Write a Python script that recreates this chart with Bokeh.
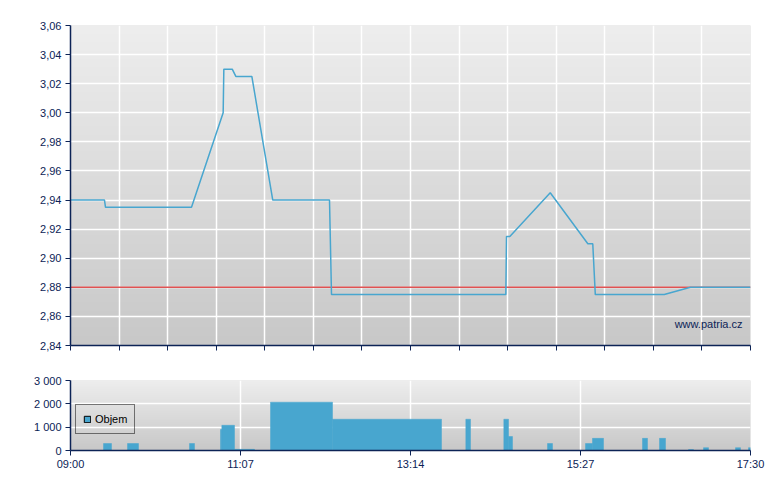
import numpy as np
from bokeh.plotting import figure
from bokeh.layouts import column
from bokeh.models import (FixedTicker, CustomJSTickFormatter, Label, Legend,
                          LegendItem, Range1d, ColumnDataSource)
from bokeh.embed import file_html
from bokeh.resources import INLINE

# ---- data (x = minutes after 09:00) ----
price_t = [0, 25.5, 26.25, 90.75, 114.5, 115, 121.3, 124, 136, 151.7, 194.25,
           195.75, 326.5, 327, 329.5, 359.8, 388, 391.7, 393.6, 445.3, 465, 510]
price_v = [2.94, 2.94, 2.935, 2.935, 3.00, 3.03, 3.03, 3.025, 3.025, 2.94, 2.94,
           2.875, 2.875, 2.915, 2.915, 2.945, 2.91, 2.91, 2.875, 2.875, 2.88, 2.88]
prev_close = 2.88

vol_start = [24.75, 42.75, 89.25, 112.5, 113.5, 123, 150, 196.5, 296.5, 325,
             328.5, 357.75, 386.25, 391.5, 429, 441.75, 463.5, 474.75, 498.75, 508.5]
vol_end = [30.75, 51, 93, 113.5, 123, 138, 196.5, 278.25, 300, 328.5,
           331.5, 361.5, 391.5, 399.75, 432.75, 446.25, 467.25, 478.5, 502.5, 510]
vol_value = [300, 300, 300, 900, 1080, 50, 2070, 1340, 1340, 1340,
             600, 300, 300, 520, 520, 520, 40, 120, 120, 120]

time_ticks = [0, 127.5, 255, 382.5, 510]
time_labels = ["09:00", "11:07", "13:14", "15:27", "17:30"]
price_ticks = [2.84, 2.86, 2.88, 2.90, 2.92, 2.94, 2.96, 2.98, 3.00, 3.02, 3.04, 3.06]
vol_ticks = [0, 1000, 2000, 3000]

X0, X1 = 0, 510
NAVY = "#0c2356"
BLUE = "#48a6cf"
RED = "#e05252"
FONT = "Liberation Sans"


def gradient(n=256, top=238, bottom=200):
    g = np.linspace(bottom, top, n).astype(np.uint32)
    img = (255 << 24) | (g << 16) | (g << 8) | g
    return img.reshape(n, 1).view(np.uint32)


def style(p):
    p.outline_line_color = None
    p.background_fill_color = "#dcdcdc"
    p.border_fill_color = "white"
    for ax in (p.xaxis, p.yaxis):
        ax.axis_line_color = NAVY
        ax.axis_line_width = 1.5
        ax.major_tick_line_color = NAVY
        ax.major_tick_in = 0
        ax.major_tick_out = 5
        ax.minor_tick_line_color = None
        ax.major_label_text_color = NAVY
        ax.major_label_text_font = FONT
        ax.major_label_text_font_size = "11px"
    p.grid.grid_line_color = "white"
    p.grid.grid_line_width = 1.5


# ---- price panel ----
p1 = figure(width=770, height=365, x_range=Range1d(X0, X1), y_range=Range1d(2.84, 3.06),
            output_backend="svg", toolbar_location=None,
            min_border_left=70, min_border_right=20, min_border_top=25, min_border_bottom=20)
style(p1)
bg1 = p1.image_rgba(image=[gradient()], x=X0, y=2.84, dw=X1 - X0, dh=0.22)
bg1.level = "image"
fine_ticks = [X0 + (X1 - X0) * k / 14 for k in range(15)]
p1.xaxis.ticker = FixedTicker(ticks=fine_ticks)
p1.xgrid.ticker = FixedTicker(ticks=fine_ticks)
p1.xaxis.formatter = CustomJSTickFormatter(code="return '';")
p1.xaxis.major_label_standoff = 0
p1.yaxis.ticker = FixedTicker(ticks=price_ticks)
p1.ygrid.ticker = FixedTicker(ticks=price_ticks)
p1.yaxis.formatter = CustomJSTickFormatter(code="return tick.toFixed(2).replace('.', ',');")
p1.yaxis.major_label_standoff = 4

p1.line([X0, X1], [prev_close, prev_close], line_color=RED, line_width=1.5)
p1.line(price_t, price_v, line_color=BLUE, line_width=1.5)
p1.add_layout(Label(x=504, y=2.8545, text="www.patria.cz", text_align="right",
                    text_baseline="middle", text_font_size="11px", text_color=NAVY,
                    text_font=FONT))

# ---- volume panel ----
p2 = figure(width=770, height=115, x_range=p1.x_range, y_range=Range1d(0, 3000),
            output_backend="svg", toolbar_location=None,
            min_border_left=70, min_border_right=20, min_border_top=15, min_border_bottom=30)
style(p2)
bg2 = p2.image_rgba(image=[gradient()], x=X0, y=0, dw=X1 - X0, dh=3000)
bg2.level = "image"
p2.xaxis.ticker = FixedTicker(ticks=time_ticks)
p2.xgrid.ticker = FixedTicker(ticks=time_ticks[1:-1])
p2.xaxis.major_label_overrides = {t: l for t, l in zip(time_ticks, time_labels)}
p2.xaxis.major_label_standoff = 2
p2.yaxis.ticker = FixedTicker(ticks=vol_ticks)
p2.ygrid.ticker = FixedTicker(ticks=vol_ticks)
p2.yaxis.formatter = CustomJSTickFormatter(
    code="return tick == 0 ? '0' : (tick/1000) + ' 000';")
p2.yaxis.major_label_standoff = 4

src = ColumnDataSource(dict(left=vol_start, right=vol_end, top=vol_value,
                            bottom=[0] * len(vol_value)))
p2.quad(left="left", right="right", top="top", bottom="bottom", source=src,
        fill_color=BLUE, line_color=BLUE, line_width=0.5)
nan = float("nan")
dummy = p2.quad(left=[nan], right=[nan], top=[nan], bottom=[nan],
                fill_color=BLUE, line_color="black", line_width=1)
leg = Legend(items=[LegendItem(label="Objem", renderers=[dummy])], location=(5, 16),
             border_line_color="black", border_line_width=1, background_fill_alpha=0,
             glyph_width=8, glyph_height=8, label_standoff=4, padding=7, margin=0,
             label_text_font=FONT, label_text_font_size="11px", label_text_color="black",
             label_height=14)
p2.add_layout(leg)

layout = column(p1, p2, spacing=0)
open("out.html", "w").write(file_html(layout, INLINE))
